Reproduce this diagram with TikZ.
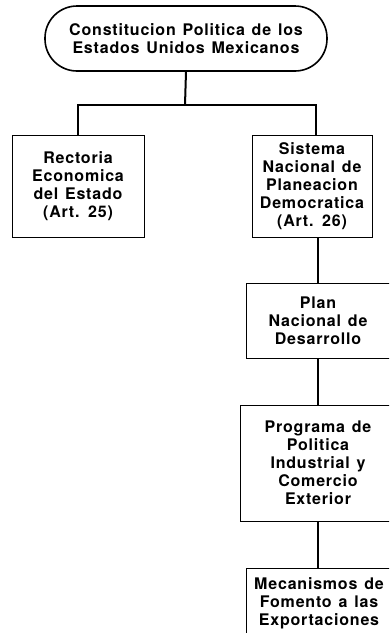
\documentclass[tikz,border=0pt]{standalone}
\usepackage{fontspec}
\setmainfont{TeX Gyre Heros}[LetterSpace=5, WordSpace=1.3]
\tikzset{
  box/.style={draw, line width=0.9pt, align=center, font=\bfseries\fontsize{16}{18}\selectfont, inner sep=0pt},
  conn/.style={line width=2pt},
}
\begin{document}
\begin{tikzpicture}[x=1pt,y=-1pt]
\useasboundingbox (0,0) rectangle (389,633);
\clip (0,0) rectangle (389,633);
\node[box, line width=1.6pt, rounded corners=32pt, minimum width=282pt, minimum height=65pt] (top) at (186,38.5)
  {Constitucion Politica de los\\Estados Unidos Mexicanos};
\node[box, minimum width=132pt, minimum height=102pt] (rect) at (78,186)
  {Rectoria\\Economica\\del Estado\\(Art. 25)};
\node[box, minimum width=120pt, minimum height=102pt] (sis) at (312,186)
  {Sistema\\Nacional de\\Planeacion\\Democratica\\(Art. 26)};
\node[box, minimum width=144pt, minimum height=75pt] (plan) at (318,320.5)
  {Plan\\Nacional de\\Desarrollo};
\node[box, minimum width=156pt, minimum height=116pt] (prog) at (318,463)
  {Programa de\\Politica\\Industrial y\\Comercio\\Exterior};
\node[box, minimum width=146pt, minimum height=70pt] (mec) at (319,603)
  {Mecanismos de\\Fomento a las\\Exportaciones};
\coordinate (hub) at (185,105);
\draw[conn] (top.south) -- (hub);
\draw[conn] (rect.north) |- (hub);
\draw[conn] (hub) -| ([xshift=4pt]sis.north);
\draw[conn] (plan.north |- sis.south) -- (plan.north);
\draw[conn] (plan.south) -- (prog.north -| plan.south);
\draw[conn] (prog.south) -- (prog.south |- mec.north);
\end{tikzpicture}
\end{document}
